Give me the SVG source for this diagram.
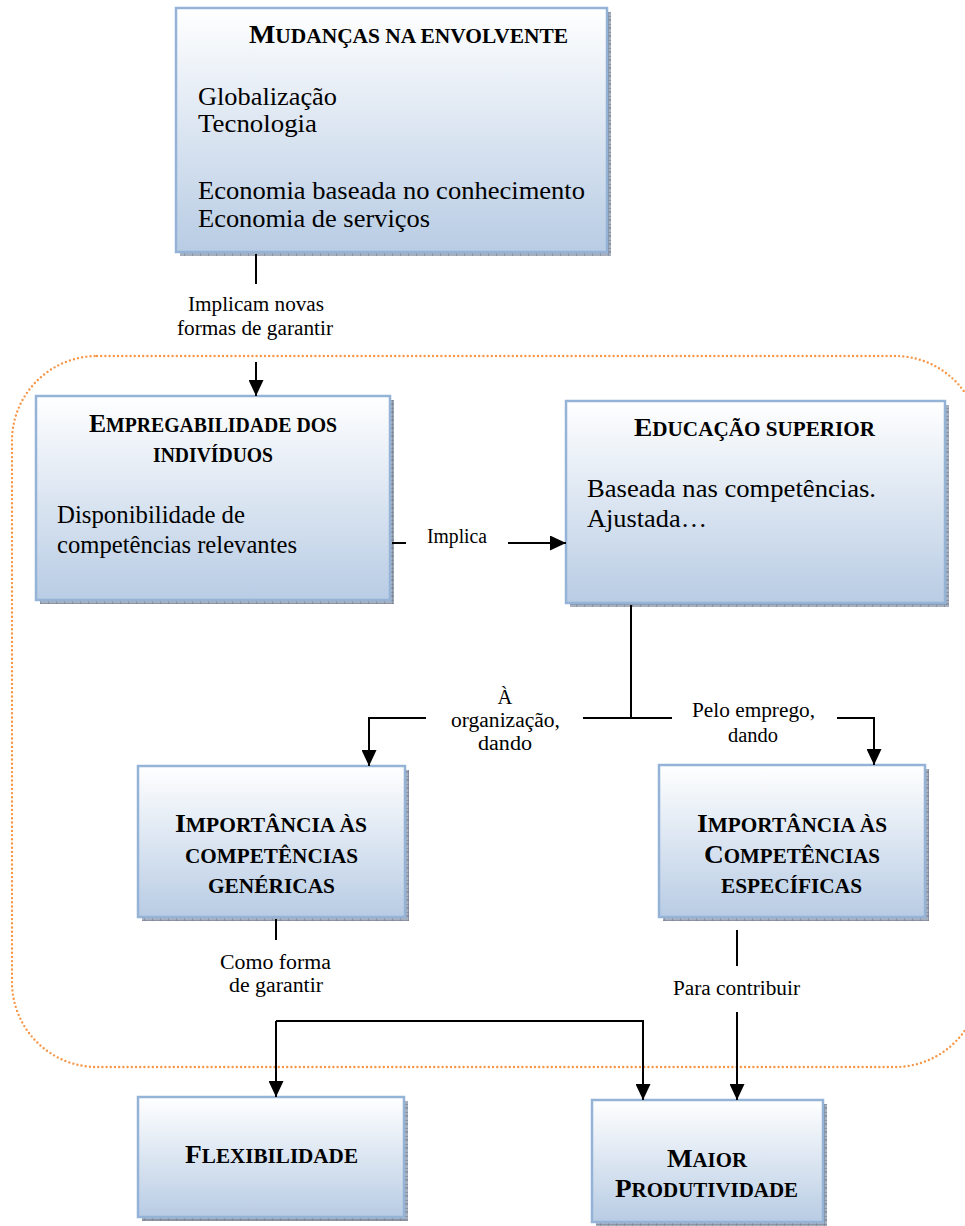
<svg xmlns="http://www.w3.org/2000/svg" width="965" height="1226" viewBox="0 0 965 1226">
  <defs>
    <linearGradient id="boxFill" x1="0" y1="0" x2="0" y2="1">
      <stop offset="0" stop-color="#FFFFFF"/>
      <stop offset="1" stop-color="#B8CCE4"/>
    </linearGradient>
    <pattern id="shade" width="8" height="8" patternUnits="userSpaceOnUse">
      <rect width="8" height="8" fill="#A7B0BE"/>
      <path d="M0,0 H8 M0,4 H8 M0,0 V8" stroke="#6E798B" stroke-width="1"/>
    </pattern>
    <marker id="arrow" markerUnits="userSpaceOnUse" markerWidth="16" markerHeight="15" refX="16" refY="7.5" orient="auto">
      <path d="M0,0 L16,7.5 L0,15 z" fill="#000"/>
    </marker>
    <style>
      .box { fill: url(#boxFill); stroke: #95B3D7; stroke-width: 2.5; }
      .shadow { fill: url(#shade); }
      .title { font-family: "Liberation Serif", "Times New Roman", serif; font-weight: bold; fill: #000; }
      .big { font-size: 26px; }
      .small { font-size: 20px; }
      .body { font-family: "Liberation Serif", "Times New Roman", serif; font-size: 24.5px; fill: #000; }
      .label { font-family: "Liberation Serif", "Times New Roman", serif; font-size: 20.5px; fill: #000; }
      .conn { fill: none; stroke: #000; stroke-width: 2; }
      .region { fill: none; stroke: #F79646; stroke-width: 2.4; stroke-dasharray: 0 4.2; stroke-linecap: round; }
    </style>
  </defs>

  <!-- dotted boundary around the middle stages -->
  <rect class="region" x="12" y="356" width="968" height="711" rx="85" ry="85"/>

  <!-- node: environmental changes -->
  <g id="mudancas">
    <rect class="shadow" x="180" y="12" width="431" height="244"/>
    <rect class="box" x="176" y="8" width="431" height="244"/>
    <text class="title" x="249" y="43" textLength="319" lengthAdjust="spacingAndGlyphs"><tspan class="big">M</tspan><tspan class="small">UDANÇAS NA ENVOLVENTE</tspan></text>
    <text class="body" x="198" y="105" textLength="139" lengthAdjust="spacingAndGlyphs">Globalização</text>
    <text class="body" x="198" y="132" textLength="119" lengthAdjust="spacingAndGlyphs">Tecnologia</text>
    <text class="body" x="198" y="199" textLength="387" lengthAdjust="spacingAndGlyphs">Economia baseada no conhecimento</text>
    <text class="body" x="198" y="227" textLength="232" lengthAdjust="spacingAndGlyphs">Economia de serviços</text>
  </g>

  <!-- node: employability -->
  <g id="empregabilidade">
    <rect class="shadow" x="40" y="400" width="354" height="204"/>
    <rect class="box" x="36" y="396" width="354" height="204"/>
    <text class="title" x="89" y="432" textLength="248" lengthAdjust="spacingAndGlyphs"><tspan class="big">E</tspan><tspan class="small">MPREGABILIDADE DOS</tspan></text>
    <text class="title small" x="153" y="462" textLength="120" lengthAdjust="spacingAndGlyphs">INDIVÍDUOS</text>
    <text class="body" x="57" y="523" textLength="188" lengthAdjust="spacingAndGlyphs">Disponibilidade de</text>
    <text class="body" x="57" y="553" textLength="240" lengthAdjust="spacingAndGlyphs">competências relevantes</text>
  </g>

  <!-- node: higher education -->
  <g id="educacao">
    <rect class="shadow" x="570" y="405" width="379" height="202"/>
    <rect class="box" x="566" y="401" width="379" height="202"/>
    <text class="title" x="634" y="436" textLength="241" lengthAdjust="spacingAndGlyphs"><tspan class="big">E</tspan><tspan class="small">DUCAÇÃO SUPERIOR</tspan></text>
    <text class="body" x="587" y="497" textLength="289" lengthAdjust="spacingAndGlyphs">Baseada nas competências.</text>
    <text class="body" x="587" y="527" textLength="120" lengthAdjust="spacingAndGlyphs">Ajustada…</text>
  </g>

  <!-- node: generic competences -->
  <g id="genericas">
    <rect class="shadow" x="142" y="770" width="267" height="151"/>
    <rect class="box" x="138" y="766" width="267" height="151"/>
    <text class="title" x="175" y="832" textLength="192" lengthAdjust="spacingAndGlyphs"><tspan class="big">I</tspan><tspan class="small">MPORTÂNCIA ÀS</tspan></text>
    <text class="title small" x="185" y="863" textLength="173" lengthAdjust="spacingAndGlyphs">COMPETÊNCIAS</text>
    <text class="title small" x="208" y="893" textLength="127" lengthAdjust="spacingAndGlyphs">GENÉRICAS</text>
  </g>

  <!-- node: specific competences -->
  <g id="especificas">
    <rect class="shadow" x="663" y="769" width="266" height="152"/>
    <rect class="box" x="659" y="765" width="266" height="152"/>
    <text class="title" x="697" y="832" textLength="190" lengthAdjust="spacingAndGlyphs"><tspan class="big">I</tspan><tspan class="small">MPORTÂNCIA ÀS</tspan></text>
    <text class="title" x="704" y="863" textLength="176" lengthAdjust="spacingAndGlyphs"><tspan class="big">C</tspan><tspan class="small">OMPETÊNCIAS</tspan></text>
    <text class="title small" x="721" y="893" textLength="141" lengthAdjust="spacingAndGlyphs">ESPECÍFICAS</text>
  </g>

  <!-- node: flexibility -->
  <g id="flexibilidade">
    <rect class="shadow" x="142" y="1101" width="266" height="120"/>
    <rect class="box" x="138" y="1097" width="266" height="120"/>
    <text class="title" x="185" y="1163" textLength="173" lengthAdjust="spacingAndGlyphs"><tspan class="big">F</tspan><tspan class="small">LEXIBILIDADE</tspan></text>
  </g>

  <!-- node: higher productivity -->
  <g id="produtividade">
    <rect class="shadow" x="596" y="1104" width="231" height="122"/>
    <rect class="box" x="592" y="1100" width="231" height="122"/>
    <text class="title" x="667" y="1167" textLength="80" lengthAdjust="spacingAndGlyphs"><tspan class="big">M</tspan><tspan class="small">AIOR</tspan></text>
    <text class="title" x="615" y="1197" textLength="183" lengthAdjust="spacingAndGlyphs"><tspan class="big">P</tspan><tspan class="small">RODUTIVIDADE</tspan></text>
  </g>

  <!-- connectors and their labels -->
  <g id="connectors">
    <path class="conn" d="M256,254 V284"/>
    <path class="conn" d="M256,362 V396" marker-end="url(#arrow)"/>
    <text class="label" x="188" y="311" textLength="136" lengthAdjust="spacingAndGlyphs">Implicam novas</text>
    <text class="label" x="177" y="335" textLength="156" lengthAdjust="spacingAndGlyphs">formas de garantir</text>

    <path class="conn" d="M392,543 H406"/>
    <path class="conn" d="M508,543 H566" marker-end="url(#arrow)"/>
    <text class="label" x="427" y="543" textLength="60" lengthAdjust="spacingAndGlyphs">Implica</text>

    <path class="conn" d="M631,605 V718"/>
    <path class="conn" d="M583,718 H672"/>
    <path class="conn" d="M426,718 H369 V766" marker-end="url(#arrow)"/>
    <path class="conn" d="M837,718 H874 V765" marker-end="url(#arrow)"/>
    <text class="label" x="505" y="704" text-anchor="middle">À</text>
    <text class="label" x="451" y="727" textLength="109" lengthAdjust="spacingAndGlyphs">organização,</text>
    <text class="label" x="478" y="750" textLength="54" lengthAdjust="spacingAndGlyphs">dando</text>
    <text class="label" x="692" y="717" textLength="123" lengthAdjust="spacingAndGlyphs">Pelo emprego,</text>
    <text class="label" x="728" y="742" textLength="50" lengthAdjust="spacingAndGlyphs">dando</text>

    <path class="conn" d="M276,919 V940"/>
    <text class="label" x="220" y="969" textLength="111" lengthAdjust="spacingAndGlyphs">Como forma</text>
    <text class="label" x="229" y="992" textLength="94" lengthAdjust="spacingAndGlyphs">de garantir</text>
    <path class="conn" d="M276,1021 V1097" marker-end="url(#arrow)"/>
    <path class="conn" d="M276,1021 H643 V1100" marker-end="url(#arrow)"/>

    <path class="conn" d="M737,930 V966"/>
    <text class="label" x="673" y="995" textLength="127" lengthAdjust="spacingAndGlyphs">Para contribuir</text>
    <path class="conn" d="M737,1012 V1100" marker-end="url(#arrow)"/>
  </g>
</svg>
